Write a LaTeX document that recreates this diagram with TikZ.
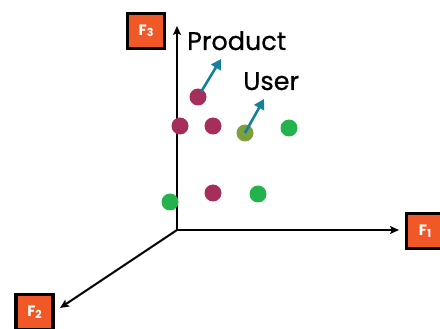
\documentclass[tikz,border=0pt]{standalone}
\usepackage{fontspec}
\setmainfont{Poppins}
\newfontface\lblfont{Poppins}[FakeBold=0.8]
\usetikzlibrary{arrows.meta}
\definecolor{fbox}{RGB}{240,88,40}
\definecolor{maroon}{RGB}{166,46,92}
\definecolor{dgreen}{RGB}{36,178,76}
\definecolor{olive}{RGB}{124,160,60}
\definecolor{teal}{RGB}{22,128,152}
\tikzset{
  axis/.style={line width=2pt,-{Stealth[length=9pt,width=8pt,inset=2pt]}},
  fbx/.style={draw=black,fill=fbox,line width=3.4pt,minimum width=37pt,minimum height=35pt,inner sep=0pt,text=white,font=\fontsize{15}{15}\selectfont\bfseries},
  dot/.style={circle,minimum size=17pt,inner sep=0pt},
  vec/.style={draw=teal,line width=2.6pt,-{Triangle[length=10pt,width=11pt]}},
  lbl/.style={font=\fontsize{25.5}{25.5}\lblfont,text=black,inner sep=0pt,anchor=base west}
}
\newcommand{\fsub}[1]{F\raisebox{-1.5pt}{\fontsize{11}{11}\selectfont #1}}
\begin{document}
\begin{tikzpicture}[x=1pt,y=-1pt]
\useasboundingbox (0,0) rectangle (440,329);
\coordinate (O) at (177,230);
\coordinate (X) at (399,230);
\coordinate (Y) at (177,26);
\coordinate (Z) at (60,308);
\draw[axis] (O) -- (X);
\draw[axis] (O.center) -- (Y);
\draw[axis] (O.center) -- (Z);
\node[fbx] (f3) at (146,31) {\fsub{3}};
\node[fbx] (f1) at (425,231) {\fsub{1}};
\node[fbx] (f2) at (34.5,312) {\fsub{2}};
\node[dot,fill=maroon] (p) at (198,97) {};
\node[dot,fill=maroon] (m1) at (180,126) {};
\node[dot,fill=maroon] (m2) at (213,126) {};
\node[dot,fill=olive] (u) at (245,133) {};
\node[dot,fill=dgreen] (g1) at (289,128) {};
\node[dot,fill=dgreen] (g2) at (170,202) {};
\node[dot,fill=maroon] (m3) at (213,193) {};
\node[dot,fill=dgreen] (g3) at (258,194) {};
\coordinate (pt) at (221,59);
\coordinate (ut) at (264,99);
\draw[vec] (p.center) ++(3,-5) -- (pt);
\draw[vec] (u.center) -- (ut);
\node[lbl] (prod) at (187,50) {Product};
\node[lbl] (user) at (243,90) {User};
\end{tikzpicture}
\end{document}
